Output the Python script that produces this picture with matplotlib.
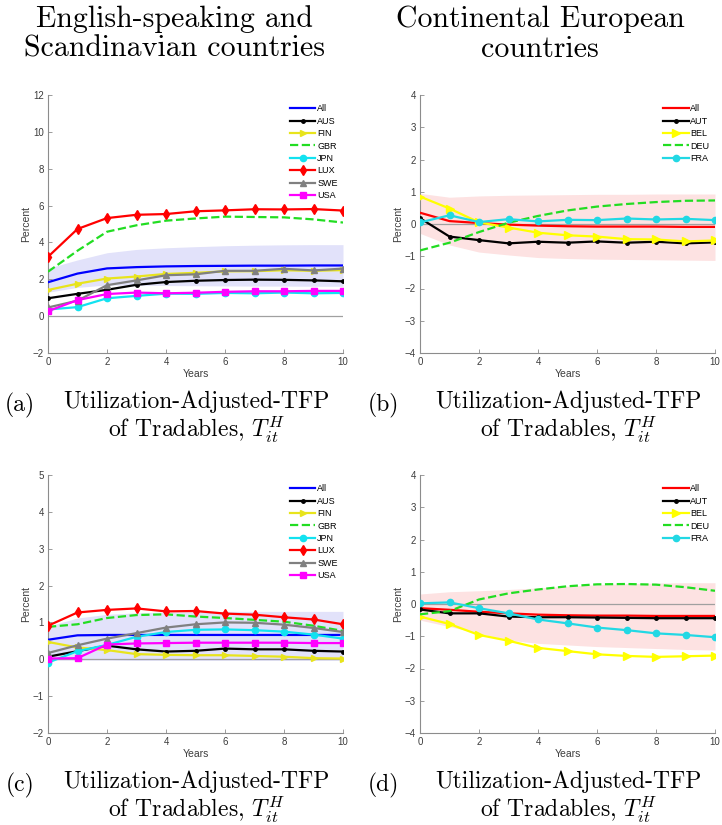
import numpy as np
import matplotlib.pyplot as plt

# Horizon (years after the shock)
years = list(range(11))

# Panel (a): English-speaking and Scandinavian countries
eng_names = ['All', 'AUS', 'FIN', 'GBR', 'JPN', 'LUX', 'SWE', 'USA']
all_a = [1.84, 2.31, 2.59, 2.66, 2.70, 2.72, 2.73, 2.74, 2.74, 2.75, 2.75]
band_a_hi = [2.60, 3.05, 3.44, 3.62, 3.71, 3.77, 3.82, 3.85, 3.87, 3.88, 3.88]
band_a_lo = [1.30, 1.56, 1.69, 1.68, 1.66, 1.65, 1.64, 1.63, 1.63, 1.62, 1.62]
aus_a = [0.97, 1.21, 1.43, 1.70, 1.85, 1.92, 1.96, 1.98, 1.97, 1.94, 1.89]
fin_a = [1.42, 1.76, 2.04, 2.15, 2.29, 2.35, 2.43, 2.44, 2.49, 2.46, 2.50]
gbr_a = [2.41, 3.55, 4.58, 4.93, 5.18, 5.30, 5.40, 5.38, 5.36, 5.25, 5.08]
jpn_a = [0.36, 0.49, 0.97, 1.10, 1.22, 1.21, 1.26, 1.24, 1.28, 1.24, 1.26]
lux_a = [3.22, 4.73, 5.32, 5.50, 5.54, 5.69, 5.74, 5.80, 5.79, 5.81, 5.73]
swe_a = [0.47, 0.84, 1.68, 1.94, 2.22, 2.27, 2.46, 2.46, 2.57, 2.48, 2.58]
usa_a = [0.27, 0.87, 1.20, 1.28, 1.24, 1.27, 1.32, 1.35, 1.35, 1.37, 1.37]

# Panel (b): Continental European countries
cont_names = ['All', 'AUT', 'BEL', 'DEU', 'FRA']
all_b = [0.35, 0.09, 0.03, -0.02, -0.05, -0.07, -0.08, -0.08, -0.08, -0.09, -0.09]
band_b_hi = [0.95, 0.83, 0.87, 0.89, 0.90, 0.91, 0.92, 0.92, 0.93, 0.93, 0.93]
band_b_lo = [-0.29, -0.65, -0.87, -0.96, -1.04, -1.07, -1.09, -1.10, -1.11, -1.12, -1.13]
aut_b = [0.18, -0.39, -0.50, -0.60, -0.55, -0.58, -0.54, -0.58, -0.55, -0.60, -0.57]
bel_b = [0.85, 0.48, 0.05, -0.11, -0.27, -0.35, -0.39, -0.47, -0.48, -0.54, -0.51]
deu_b = [-0.82, -0.58, -0.25, 0.04, 0.25, 0.42, 0.54, 0.62, 0.68, 0.72, 0.73]
fra_b = [0.05, 0.27, 0.06, 0.15, 0.08, 0.13, 0.12, 0.17, 0.14, 0.16, 0.12]

# Panel (c)
all_c = [0.53, 0.65, 0.66, 0.66, 0.66, 0.66, 0.66, 0.66, 0.66, 0.66, 0.66]
band_c_hi = [0.90, 1.12, 1.22, 1.26, 1.28, 1.29, 1.30, 1.30, 1.30, 1.30, 1.30]
band_c_lo = [-0.02, -0.02, -0.02, -0.03, -0.03, -0.03, -0.03, -0.03, -0.03, -0.03, -0.03]
aus_c = [0.07, 0.22, 0.37, 0.27, 0.21, 0.23, 0.29, 0.27, 0.27, 0.23, 0.21]
fin_c = [0.47, 0.32, 0.25, 0.14, 0.12, 0.11, 0.11, 0.09, 0.07, 0.03, 0.02]
gbr_c = [0.88, 0.95, 1.12, 1.20, 1.22, 1.16, 1.12, 1.07, 1.02, 0.91, 0.77]
jpn_c = [-0.09, 0.22, 0.39, 0.61, 0.74, 0.80, 0.81, 0.79, 0.75, 0.67, 0.56]
lux_c = [0.91, 1.27, 1.34, 1.38, 1.30, 1.31, 1.24, 1.21, 1.14, 1.08, 0.95]
swe_c = [0.17, 0.38, 0.56, 0.71, 0.86, 0.95, 1.00, 0.99, 0.94, 0.85, 0.74]
usa_c = [0.02, 0.03, 0.40, 0.43, 0.44, 0.45, 0.45, 0.45, 0.45, 0.44, 0.44]

# Panel (d)
all_d = [-0.13, -0.18, -0.24, -0.29, -0.33, -0.35, -0.36, -0.36, -0.37, -0.37, -0.37]
band_d_hi = [0.31, 0.38, 0.41, 0.45, 0.50, 0.55, 0.60, 0.63, 0.65, 0.66, 0.66]
band_d_lo = [-0.50, -0.70, -0.91, -1.12, -1.22, -1.27, -1.32, -1.35, -1.38, -1.41, -1.43]
aut_d = [-0.17, -0.29, -0.29, -0.39, -0.41, -0.41, -0.42, -0.43, -0.44, -0.44, -0.44]
bel_d = [-0.39, -0.62, -0.96, -1.14, -1.36, -1.46, -1.56, -1.61, -1.64, -1.62, -1.60]
deu_d = [-0.32, -0.22, 0.14, 0.33, 0.45, 0.55, 0.61, 0.62, 0.60, 0.52, 0.41]
fra_d = [0.02, 0.05, -0.13, -0.29, -0.48, -0.60, -0.73, -0.81, -0.91, -0.96, -1.03]

headers = ['English-speaking and\nScandinavian countries',
           'Continental European\ncountries']
caption_line = 'Utilization-Adjusted-TFP\nof Tradables, $T^H_{it}$'
panel_tags = ['(a)', '(b)', '(c)', '(d)']

# line styles (color, linestyle, marker, markersize)
eng_style = [('#0000FF', '-', None, 0),
             ('#000000', '-', '.', 5),
             ('#E8E41C', '-', '>', 5),
             ('#22DD22', '--', None, 0),
             ('#12E2F0', '-', 'o', 4.5),
             ('#FF0000', '-', 'd', 5.5),
             ('#808080', '-', '^', 5),
             ('#FF00FF', '-', 's', 4.5)]
cont_style = [('#FF0000', '-', None, 0),
              ('#000000', '-', '.', 5),
              ('#FFFF00', '-', '>', 5.5),
              ('#22DD22', '--', None, 0),
              ('#22D8E4', '-', 'o', 4.5)]

plt.rcParams['mathtext.fontset'] = 'cm'
tick_font = 'Liberation Sans'

fig = plt.figure(figsize=(7.22, 8.25), dpi=100)

def panel(rect, series, names, styles, band_lo, band_hi, ylim, yticks, band_color):
    ax = fig.add_axes(rect)
    ax.fill_between(years, band_lo, band_hi, color=band_color, lw=0, zorder=1)
    ax.axhline(0, color='#A0A0A0', lw=0.9, zorder=2)
    for vals, name, (c, ls, m, ms) in zip(series, names, styles):
        ax.plot(years, vals, color=c, ls=ls, marker=m, ms=ms, lw=1.6,
                label=name, zorder=3)
    ax.set_xlim(0, 10)
    ax.set_ylim(*ylim)
    ax.set_xticks([0, 2, 4, 6, 8, 10])
    ax.set_yticks(yticks)
    for s in ['top', 'right']:
        ax.spines[s].set_visible(False)
    for s in ['left', 'bottom']:
        ax.spines[s].set_color('#8C8C8C')
        ax.spines[s].set_linewidth(0.8)
    ax.tick_params(direction='in', length=3, width=0.6, color='#8C8C8C',
                   labelsize=7, labelcolor='#3C3C3C', pad=3)
    for lab in ax.get_xticklabels() + ax.get_yticklabels():
        lab.set_fontfamily(tick_font)
    ax.set_xlabel('Years', fontsize=7.5, color='#3C3C3C', family=tick_font, labelpad=1)
    ax.set_ylabel('Percent', fontsize=7.5, color='#3C3C3C', family=tick_font, labelpad=1)
    ax.legend(loc='upper right', bbox_to_anchor=(1.0, 0.985), frameon=False,
              prop={'family': tick_font, 'size': 6.5}, handlelength=2.8,
              labelspacing=0.38, handletextpad=0.2, borderaxespad=0.2)
    return ax

W = 295 / 722
H = 258 / 825
top_row = (825 - 353) / 825
bot_row = (825 - 733) / 825
left_col = 48 / 722
right_col = 420 / 722

panel([left_col, top_row, W, H],
      [all_a, aus_a, fin_a, gbr_a, jpn_a, lux_a, swe_a, usa_a],
      eng_names, eng_style, band_a_lo, band_a_hi, (-2, 12),
      range(-2, 13, 2), '#E2E2FA')
panel([right_col, top_row, W, H],
      [all_b, aut_b, bel_b, deu_b, fra_b],
      cont_names, cont_style, band_b_lo, band_b_hi, (-4, 4),
      range(-4, 5), '#FDE2E2')
panel([left_col, bot_row, W, H],
      [all_c, aus_c, fin_c, gbr_c, jpn_c, lux_c, swe_c, usa_c],
      eng_names, eng_style, band_c_lo, band_c_hi, (-2, 5),
      range(-2, 6), '#E2E2FA')
panel([right_col, bot_row, W, H],
      [all_d, aut_d, bel_d, deu_d, fra_d],
      cont_names, cont_style, band_d_lo, band_d_hi, (-4, 4),
      range(-4, 5), '#FDE2E2')

# column headers
serif = 'cmr10'
fig.text(174 / 722, 1 - 34 / 825, headers[0], ha='center', va='center',
         fontsize=21.5, family=serif, linespacing=1.1)
fig.text(540 / 722, 1 - 34 / 825, headers[1], ha='center', va='center',
         fontsize=21.5, family=serif, linespacing=1.1)

# sub-captions
cap_y = [418, 418, 798, 798]
tag_x = [20, 383, 20, 383]
cap_x = [196, 568, 196, 568]
for tag, ty, tx, cx in zip(panel_tags, cap_y, tag_x, cap_x):
    fig.text(tx / 722, 1 - (ty - 13) / 825, tag, ha='center', va='center',
             fontsize=17, family=serif)
    fig.text(cx / 722, 1 - ty / 825, caption_line, ha='center', va='center',
             fontsize=17, family=serif, linespacing=1.05)

fig.savefig('out.png', dpi=100)
